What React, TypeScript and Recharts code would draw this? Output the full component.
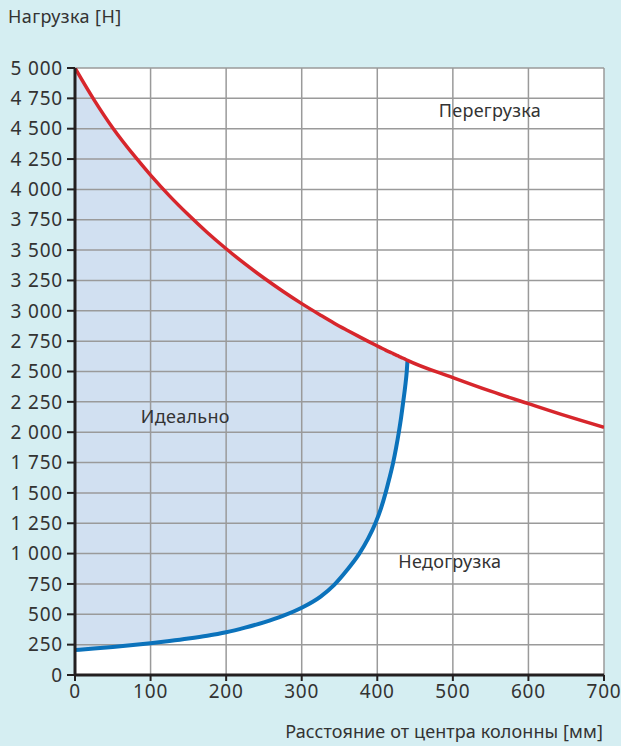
import React from "react";
import {
  ComposedChart,
  Area,
  Line,
  XAxis,
  YAxis,
  CartesianGrid,
  ReferenceDot,
  ReferenceLine,
} from "recharts";

// distance from column centre [mm]
const distances = [0, 25, 50, 80, 100, 125, 150, 175, 200, 225, 250, 275, 300, 325, 343, 360, 376, 388, 397.5, 405, 411, 416, 421, 425, 428.5, 431.5, 434.3, 437, 439, 440, 500, 550, 600, 650, 700];
// overload boundary [N]
const overloadLimit = [5000, 4740, 4506, 4265, 4118, 3947, 3791, 3645, 3511, 3386, 3270, 3161, 3059, 2964, 2898, 2840, 2787, 2748, 2718, 2695, 2676, 2662, 2647, 2635, 2625, 2616, 2609, 2601, 2595, 2592, 2450, 2338, 2235, 2134, 2040];
// underload boundary [N] (ends where it meets the overload boundary)
const underloadLimit = [206, 218, 231, 249, 262, 280, 300, 323, 352, 390, 434, 487, 554, 646, 743, 865, 998, 1125, 1250, 1375, 1500, 1620, 1750, 1875, 2000, 2120, 2250, 2380, 2500, 2592];

const xTicks = [0, 100, 200, 300, 400, 500, 600, 700];
const yTicks = [0, 250, 500, 750, 1000, 1250, 1500, 1750, 2000, 2250, 2500, 2750, 3000, 3250, 3500, 3750, 4000, 4250, 4500, 4750, 5000];

const zoneLabels = [
  { text: "Перегрузка", x: 549, y: 4646 },
  { text: "Идеально", x: 146, y: 2125 },
  { text: "Недогрузка", x: 496, y: 931 },
];

const rows = distances.map((d, i) => ({
  x: d,
  red: overloadLimit[i],
  blue: i < underloadLimit.length ? underloadLimit[i] : undefined,
  range: i < underloadLimit.length ? [underloadLimit[i], overloadLimit[i]] : undefined,
}));

const FONT = "'Noto Sans', sans-serif";
const TXT = "#333333";
const GRID = "#9a9a9a";

const fmtY = (n: number) => {
  if (n >= 1000) {
    return `${Math.floor(n / 1000)} ${String(n % 1000).padStart(3, "0")}`;
  }
  return String(n);
};

export default function App() {
  return (
    <div
      style={{
        position: "absolute",
        left: 0,
        top: 0,
        width: 621,
        height: 746,
        background: "#d5eef2",
        fontFamily: FONT,
      }}
    >
      <div
        style={{
          position: "absolute",
          left: 8,
          top: 4,
          fontSize: 18,
          letterSpacing: 0.4,
          color: TXT,
          fontFamily: FONT,
        }}
      >
        Нагрузка [Н]
      </div>
      <div
        style={{
          position: "absolute",
          right: 18,
          top: 719,
          fontSize: 18,
          letterSpacing: 0.1,
          color: TXT,
          fontFamily: FONT,
        }}
      >
        Расстояние от центра колонны [мм]
      </div>
      <div style={{ position: "absolute", left: 0, top: 0 }}>
        <ComposedChart
          width={621}
          height={746}
          data={rows}
          margin={{ top: 68, right: 17, bottom: 0, left: 0 }}
        >
          <CartesianGrid fill="#ffffff" stroke="none" />
          <Area
            type="monotone"
            dataKey="range"
            stroke="none"
            fill="#d1e0f1"
            fillOpacity={1}
            isAnimationActive={false}
          />
          {xTicks.map((t) => (
            <ReferenceLine key={"vx" + t} x={t} stroke={GRID} strokeWidth={1.5} />
          ))}
          {yTicks.map((t) => (
            <ReferenceLine key={"hy" + t} y={t} stroke={GRID} strokeWidth={1.5} />
          ))}
          <XAxis
            type="number"
            dataKey="x"
            domain={[0, 700]}
            ticks={xTicks}
            height={71}
            axisLine={{ stroke: "#231f20", strokeWidth: 3 }}
            tickLine={{ stroke: "#231f20", strokeWidth: 2 }}
            tickSize={6}
            tickMargin={4}
            tick={{ fill: TXT, fontSize: 19, fontFamily: FONT, letterSpacing: 0.8 }}
            allowDataOverflow
          />
          <YAxis
            type="number"
            domain={[0, 5000]}
            ticks={yTicks}
            width={75}
            interval={0}
            tickFormatter={fmtY}
            axisLine={{ stroke: "#231f20", strokeWidth: 3 }}
            tickLine={{ stroke: "#231f20", strokeWidth: 2 }}
            tickSize={8}
            tickMargin={4}
            tick={{ fill: TXT, fontSize: 19, fontFamily: FONT, letterSpacing: 0.8 }}
            allowDataOverflow
          />
          <Line
            type="monotone"
            dataKey="blue"
            stroke="#0b72bb"
            strokeWidth={4}
            dot={false}
            activeDot={false}
            isAnimationActive={false}
          />
          <Line
            type="monotone"
            dataKey="red"
            stroke="#d7262c"
            strokeWidth={3.5}
            dot={false}
            activeDot={false}
            isAnimationActive={false}
          />
          {zoneLabels.map((z) => (
            <ReferenceDot
              key={z.text}
              x={z.x}
              y={z.y}
              r={0}
              stroke="none"
              fill="none"
              label={{
                value: z.text,
                position: "center",
                fill: TXT,
                fontSize: 18,
                fontFamily: FONT,
                letterSpacing: 0.3,
              }}
            />
          ))}
        </ComposedChart>
      </div>
    </div>
  );
}
